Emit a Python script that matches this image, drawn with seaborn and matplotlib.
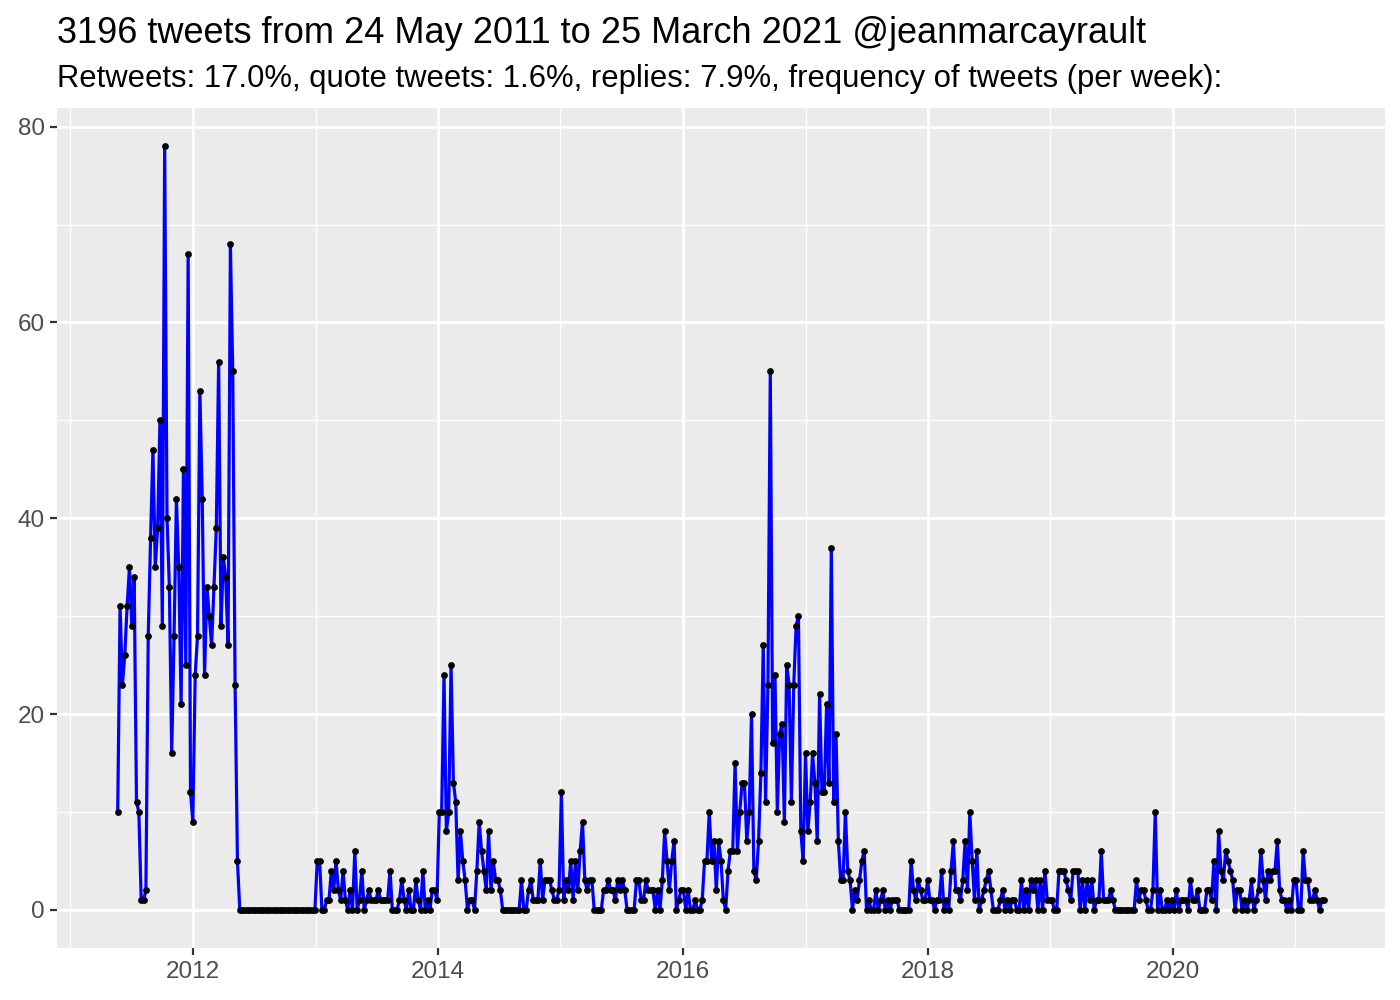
import matplotlib
matplotlib.use("Agg")
import matplotlib.pyplot as plt
import matplotlib.dates as mdates
import numpy as np
import pandas as pd
import seaborn as sns

title = "3196 tweets from 24 May 2011 to 25 March 2021 @jeanmarcayrault"
subtitle = ("Retweets: 17.0%, quote tweets: 1.6%, replies: 7.9%, "
            "frequency of tweets (per week):")

first_week = "2011-05-22"

# tweets per week, one list per stretch of time
weeks_2011 = [10, 31, 23, 26, 31, 35, 29, 34, 11, 10, 1, 1, 2, 28, 38, 47, 35, 39, 50, 29,
              78, 40, 33, 16, 28, 42, 35, 21, 45, 25, 67, 12, 9, 24, 28, 53, 42, 24, 33, 30,
              27, 33, 39, 56, 29, 36, 34, 27, 68, 55, 23, 5]
weeks_2012 = [0, 0, 0, 0, 0, 0, 0, 0, 0, 0, 0, 0, 0, 0, 0, 0, 0, 0, 0, 0,
              0, 0, 0, 0, 0, 0, 0, 0, 0, 0, 0, 0, 0]
weeks_2013 = [5, 5, 0, 0, 1, 1, 4, 2, 5, 2, 1, 4, 1, 0, 2, 0, 6, 0, 1, 4,
              0, 1, 2, 1, 1, 1, 2, 1, 1, 1, 1, 4, 0, 0, 0, 1, 3, 1, 0, 2,
              0, 0, 3, 1, 0, 4, 0, 1]
weeks_2014 = [0, 2, 2, 1, 10, 10, 24, 8, 10, 25, 13, 11, 3, 8, 5, 3, 0, 1, 1, 0,
              4, 9, 6, 4, 2, 8, 2, 5, 3, 3, 2, 0, 0, 0, 0, 0, 0, 0, 0, 3,
              0, 0, 2, 3, 1, 1, 1]
weeks_2015 = [5, 1, 3, 3, 3, 2, 1, 1, 2, 12, 1, 3, 2, 5, 1, 5, 2, 6, 9, 3,
              2, 3, 3, 0, 0, 0, 0, 2, 2, 3, 2, 2, 1, 3, 2, 3, 2, 0, 0, 0,
              0, 3, 3, 1, 1, 3, 2, 2, 2]
weeks_2016a = [0, 2, 0, 3, 8, 5, 2, 5, 7, 0, 1, 2, 2, 0, 2, 0, 0, 1, 0, 0,
               1, 5, 5, 10, 5, 7, 2, 7, 5, 1, 0, 4, 6, 6, 15, 6, 10, 13, 13, 7,
               10]
weeks_2016b = [20, 4, 3, 7, 14, 27, 11, 23, 55, 17, 24, 10, 18, 19, 9, 25, 23, 11, 23, 29,
               30, 8, 5, 16, 8, 11, 16, 13, 7, 22, 12, 12, 21, 13, 37, 11, 18, 7, 3, 3,
               10, 4, 3, 0, 2, 1]
weeks_2017 = [3, 5, 6, 0, 1, 0, 0, 2, 0, 1, 2, 0, 1, 0, 1, 1, 1, 0, 0, 0,
              0, 0, 5, 2, 1, 3, 2, 1, 1, 3, 1, 1, 0, 1, 1, 4, 0, 1, 0, 4,
              7, 2]
weeks_2018 = [2, 1, 3, 7, 2, 10, 5, 1, 6, 0, 1, 2, 3, 4, 2, 0, 0, 0, 1, 2,
              0, 1, 0, 1, 1, 0, 0, 3, 0, 2, 0, 3, 2, 3, 0, 3, 0, 4, 1, 1,
              1, 0, 0]
weeks_2019 = [4, 4, 4, 3, 2, 1, 4, 4, 4, 0, 3, 0, 3, 1, 3, 0, 1, 1, 6, 1,
              1, 1, 2, 1, 0, 0, 0, 0, 0, 0, 0, 0, 0, 3, 1, 2, 2, 1, 0, 0,
              2, 10, 0]
weeks_2020 = [2, 0, 0, 1, 0, 1, 0, 2, 0, 1, 1, 1, 0, 3, 1, 1, 2, 0, 0, 0,
              2, 2, 1, 5, 0, 8, 4, 3, 6, 5, 4, 3, 0, 2, 2, 0, 1, 0, 1, 3,
              0, 1, 2, 6, 3, 1, 4, 3, 4, 4, 7, 2, 1, 1, 0, 1, 0, 3, 3, 0,
              0, 6, 3, 3, 1, 1, 2, 1, 0, 1, 1]

counts = (weeks_2011 + weeks_2012 + weeks_2013 + weeks_2014 + weeks_2015 + weeks_2016a
          + weeks_2016b + weeks_2017 + weeks_2018 + weeks_2019 + weeks_2020)
df = pd.DataFrame({
    "week": pd.date_range(first_week, periods=len(counts), freq="7D"),
    "tweets": counts,
})

sns.set_theme(style="darkgrid", rc={
    "axes.facecolor": "#EBEBEB",
    "grid.color": "white",
    "axes.edgecolor": "white",
})
plt.rcParams["font.family"] = ["Liberation Sans", "DejaVu Sans"]

fig = plt.figure(figsize=(14, 10), dpi=100)
ax = fig.add_axes([0.041, 0.052, 0.948, 0.840])

sns.lineplot(data=df, x="week", y="tweets", ax=ax, color="#0000FF", linewidth=2.3, zorder=3)
sns.scatterplot(data=df, x="week", y="tweets", ax=ax, color="black", s=24,
                edgecolor="black", linewidth=0, zorder=4)

# axis limits like ggplot's 5% expansion
span = df["week"].max() - df["week"].min()
ax.set_xlim(df["week"].min() - span * 0.05, df["week"].max() + span * 0.05)
ymax = max(counts)
ax.set_ylim(-0.05 * ymax, ymax * 1.05)

ax.xaxis.set_major_locator(mdates.YearLocator(2))
ax.xaxis.set_major_formatter(mdates.DateFormatter("%Y"))
odd_years = [pd.Timestamp(f"{y}-01-01") for y in range(2011, 2022, 2)]
ax.set_xticks(mdates.date2num(odd_years), minor=True)
ax.set_yticks([0, 20, 40, 60, 80])
ax.set_yticks([10, 30, 50, 70], minor=True)

ax.grid(which="major", color="white", linewidth=2.0)
ax.grid(which="minor", color="white", linewidth=1.0)
ax.tick_params(which="major", length=5, width=1.6, color="#333333",
               labelsize=17.5, labelcolor="#4D4D4D", pad=4,
               bottom=True, left=True)
ax.tick_params(which="minor", length=0)
for s in ax.spines.values():
    s.set_visible(False)
ax.set_xlabel("")
ax.set_ylabel("")

fig.text(0.041, 0.957, title, fontsize=26, color="black", va="baseline", ha="left")
fig.text(0.041, 0.913, subtitle, fontsize=22.3, color="black", va="baseline", ha="left")

fig.savefig("out.png", dpi=100)
